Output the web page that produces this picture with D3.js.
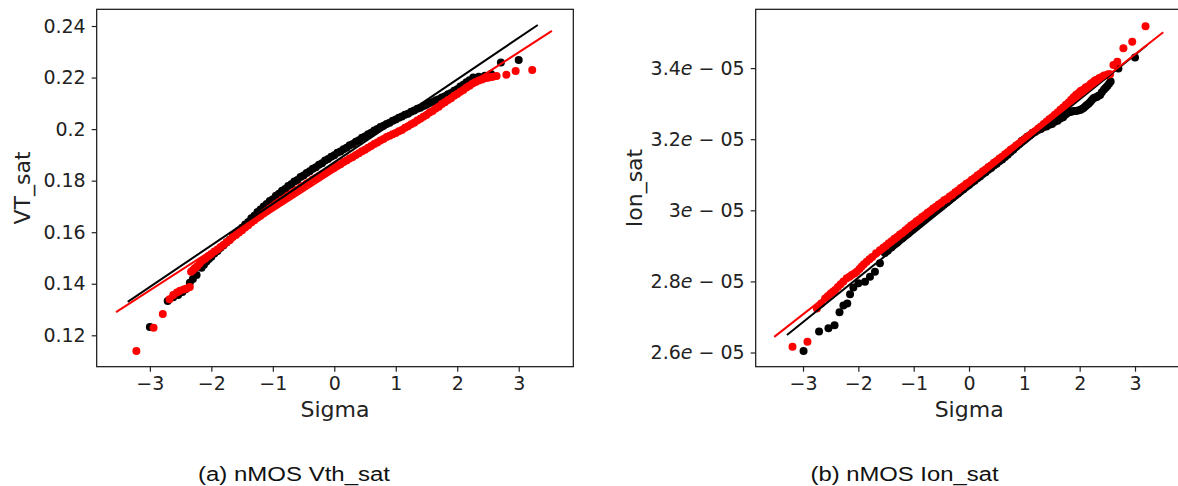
<!DOCTYPE html>
<html>
<head>
<meta charset="utf-8">
<script src="https://cdn.jsdelivr.net/npm/d3@7"></script>
<style>
  body { margin: 0; background: #fff; }
  svg { display: block; }
  .tick text { font-family: "DejaVu Sans", sans-serif; font-size: 19px; fill: #222; }
</style>
</head>
<body>
<div id="viz"></div>
<script>
'use strict';

const width = 1178;
const height = 486;

// ---- data: [sigma, value] ----
// panel (a): VT_sat
const vthBlack = [
  [-3.00, 0.1232], [-2.71, 0.1333], [-2.62, 0.1348], [-2.54, 0.1356], [-2.47, 0.1368],
  [-2.42, 0.1379], [-2.35, 0.1404], [-2.30, 0.1418], [-2.24, 0.1434], [-2.16, 0.1462],
  [-2.12, 0.1474], [-2.08, 0.1486], [-2.04, 0.1496], [-2.00, 0.1505], [-1.95, 0.1518],
  [-1.90, 0.1527], [-1.85, 0.1540], [-1.80, 0.1549], [-1.75, 0.1561], [-1.70, 0.1571],
  [-1.65, 0.1584], [-1.60, 0.1594], [-1.55, 0.1607], [-1.50, 0.1617], [-1.45, 0.1630],
  [-1.40, 0.1640], [-1.35, 0.1654], [-1.30, 0.1664], [-1.25, 0.1678], [-1.20, 0.1688],
  [-1.15, 0.1700], [-1.10, 0.1709], [-1.05, 0.1721], [-1.00, 0.1728], [-0.95, 0.1741],
  [-0.90, 0.1749], [-0.85, 0.1761], [-0.80, 0.1768], [-0.75, 0.1779], [-0.70, 0.1786],
  [-0.65, 0.1797], [-0.60, 0.1803], [-0.55, 0.1814], [-0.50, 0.1820], [-0.45, 0.1830],
  [-0.40, 0.1836], [-0.35, 0.1846], [-0.30, 0.1852], [-0.25, 0.1862], [-0.20, 0.1868],
  [-0.15, 0.1878], [-0.10, 0.1884], [-0.05, 0.1893], [0.00, 0.1899], [0.05, 0.1908],
  [0.10, 0.1913], [0.15, 0.1922], [0.20, 0.1928], [0.25, 0.1937], [0.30, 0.1942],
  [0.35, 0.1951], [0.40, 0.1957], [0.45, 0.1966], [0.50, 0.1971], [0.55, 0.1980],
  [0.60, 0.1986], [0.65, 0.1995], [0.70, 0.2000], [0.75, 0.2008], [0.80, 0.2013],
  [0.85, 0.2020], [0.90, 0.2025], [0.95, 0.2032], [1.00, 0.2037], [1.05, 0.2044],
  [1.10, 0.2049], [1.15, 0.2056], [1.20, 0.2060], [1.25, 0.2067], [1.30, 0.2072],
  [1.35, 0.2079], [1.40, 0.2083], [1.45, 0.2090], [1.50, 0.2094], [1.55, 0.2101],
  [1.60, 0.2105], [1.65, 0.2112], [1.70, 0.2116], [1.75, 0.2123], [1.80, 0.2127],
  [1.85, 0.2135], [1.90, 0.2140], [1.95, 0.2149], [2.00, 0.2155], [2.05, 0.2165],
  [2.10, 0.2172], [2.15, 0.2182], [2.20, 0.2190], [2.26, 0.2200], [2.35, 0.2203],
  [2.45, 0.2207], [2.55, 0.2214], [2.71, 0.2258], [3.00, 0.2268]
];
const vthRed = [
  [-3.22, 0.1139], [-2.94, 0.1229], [-2.79, 0.1283], [-2.68, 0.1340], [-2.62, 0.1356],
  [-2.56, 0.1366], [-2.51, 0.1373], [-2.45, 0.1378], [-2.40, 0.1382], [-2.35, 0.1387],
  [-2.33, 0.1447], [-2.30, 0.1452], [-2.27, 0.1460], [-2.23, 0.1468], [-2.19, 0.1479],
  [-2.15, 0.1489], [-2.10, 0.1497], [-2.05, 0.1507], [-2.00, 0.1515], [-1.95, 0.1525],
  [-1.90, 0.1533], [-1.85, 0.1543], [-1.80, 0.1551], [-1.75, 0.1561], [-1.70, 0.1570],
  [-1.65, 0.1581], [-1.60, 0.1589], [-1.55, 0.1599], [-1.50, 0.1608], [-1.45, 0.1618],
  [-1.40, 0.1627], [-1.35, 0.1638], [-1.30, 0.1646], [-1.25, 0.1656], [-1.20, 0.1664],
  [-1.15, 0.1674], [-1.10, 0.1682], [-1.05, 0.1692], [-1.00, 0.1700], [-0.95, 0.1709],
  [-0.90, 0.1717], [-0.85, 0.1726], [-0.80, 0.1733], [-0.75, 0.1742], [-0.70, 0.1749],
  [-0.65, 0.1758], [-0.60, 0.1765], [-0.55, 0.1773], [-0.50, 0.1780], [-0.45, 0.1789],
  [-0.40, 0.1795], [-0.35, 0.1804], [-0.30, 0.1810], [-0.25, 0.1818], [-0.20, 0.1825],
  [-0.15, 0.1832], [-0.10, 0.1838], [-0.05, 0.1845], [0.00, 0.1850], [0.05, 0.1858],
  [0.10, 0.1864], [0.15, 0.1872], [0.20, 0.1878], [0.25, 0.1886], [0.30, 0.1892],
  [0.35, 0.1900], [0.40, 0.1906], [0.45, 0.1914], [0.50, 0.1920], [0.55, 0.1928],
  [0.60, 0.1934], [0.65, 0.1942], [0.70, 0.1948], [0.75, 0.1956], [0.80, 0.1962],
  [0.85, 0.1969], [0.90, 0.1974], [0.95, 0.1980], [1.00, 0.1985], [1.05, 0.1992],
  [1.10, 0.1997], [1.15, 0.2005], [1.20, 0.2011], [1.25, 0.2019], [1.30, 0.2025],
  [1.35, 0.2033], [1.40, 0.2040], [1.45, 0.2048], [1.50, 0.2055], [1.55, 0.2064],
  [1.60, 0.2070], [1.65, 0.2080], [1.70, 0.2087], [1.75, 0.2097], [1.80, 0.2104],
  [1.85, 0.2113], [1.90, 0.2120], [1.95, 0.2129], [2.00, 0.2136], [2.05, 0.2145],
  [2.10, 0.2152], [2.15, 0.2161], [2.20, 0.2168], [2.25, 0.2177], [2.30, 0.2183],
  [2.35, 0.2189], [2.40, 0.2192], [2.45, 0.2197], [2.50, 0.2199], [2.54, 0.2202],
  [2.58, 0.2203], [2.64, 0.2206], [2.80, 0.2211], [2.95, 0.2225], [3.22, 0.2229]
];
const vthFitBlack = [[-3.36, 0.1330], [3.31, 0.2404]];
const vthFitRed = [[-3.55, 0.1290], [3.54, 0.2381]];

// panel (b): Ion_sat, values in units of 1e-05
const ionBlack = [
  [-2.99, 2.604], [-2.71, 2.659], [-2.54, 2.668], [-2.43, 2.677], [-2.34, 2.713],
  [-2.27, 2.732], [-2.20, 2.738], [-2.15, 2.764], [-2.09, 2.783], [-2.00, 2.795],
  [-1.88, 2.799], [-1.79, 2.813], [-1.70, 2.827], [-1.61, 2.851], [-1.52, 2.880],
  [-1.47, 2.886], [-1.40, 2.896], [-1.35, 2.904], [-1.30, 2.909], [-1.25, 2.917],
  [-1.20, 2.922], [-1.15, 2.930], [-1.10, 2.935], [-1.05, 2.943], [-1.00, 2.948],
  [-0.95, 2.956], [-0.90, 2.961], [-0.85, 2.969], [-0.80, 2.974], [-0.75, 2.982],
  [-0.70, 2.987], [-0.65, 2.994], [-0.60, 2.999], [-0.55, 3.006], [-0.50, 3.011],
  [-0.45, 3.018], [-0.40, 3.023], [-0.35, 3.030], [-0.30, 3.035], [-0.25, 3.042],
  [-0.20, 3.047], [-0.15, 3.054], [-0.10, 3.059], [-0.05, 3.066], [0.00, 3.071],
  [0.05, 3.078], [0.10, 3.083], [0.15, 3.090], [0.20, 3.095], [0.25, 3.102],
  [0.30, 3.107], [0.35, 3.114], [0.40, 3.119], [0.45, 3.126], [0.50, 3.131],
  [0.55, 3.138], [0.60, 3.143], [0.65, 3.150], [0.70, 3.156], [0.75, 3.164],
  [0.80, 3.170], [0.85, 3.179], [0.90, 3.186], [0.95, 3.195], [1.00, 3.200],
  [1.05, 3.207], [1.10, 3.211], [1.15, 3.218], [1.20, 3.221], [1.25, 3.226],
  [1.30, 3.229], [1.35, 3.234], [1.40, 3.236], [1.45, 3.241], [1.50, 3.243],
  [1.55, 3.249], [1.60, 3.252], [1.65, 3.258], [1.70, 3.262], [1.74, 3.269],
  [1.77, 3.273], [1.81, 3.276], [1.85, 3.277], [1.89, 3.279], [1.93, 3.279],
  [1.97, 3.281], [2.01, 3.282], [2.04, 3.285], [2.07, 3.288], [2.10, 3.292],
  [2.13, 3.296], [2.16, 3.300], [2.19, 3.305], [2.22, 3.310], [2.25, 3.315],
  [2.28, 3.317], [2.31, 3.319], [2.34, 3.322], [2.37, 3.324], [2.40, 3.332],
  [2.44, 3.340], [2.47, 3.345], [2.50, 3.350], [2.53, 3.356], [2.56, 3.362],
  [2.70, 3.399], [3.00, 3.430]
];
const ionRed = [
  [-3.19, 2.616], [-2.92, 2.630], [-2.75, 2.724], [-2.67, 2.738], [-2.60, 2.752],
  [-2.55, 2.759], [-2.50, 2.766], [-2.46, 2.771], [-2.42, 2.776], [-2.37, 2.784],
  [-2.32, 2.792], [-2.27, 2.800], [-2.21, 2.809], [-2.16, 2.813], [-2.12, 2.818],
  [-2.07, 2.822], [-2.03, 2.827], [-1.98, 2.835], [-1.94, 2.842], [-1.90, 2.848],
  [-1.85, 2.855], [-1.80, 2.862], [-1.75, 2.869], [-1.68, 2.879], [-1.61, 2.888],
  [-1.55, 2.895], [-1.50, 2.900], [-1.45, 2.907], [-1.40, 2.913], [-1.35, 2.920],
  [-1.30, 2.925], [-1.25, 2.932], [-1.20, 2.937], [-1.15, 2.944], [-1.10, 2.950],
  [-1.05, 2.957], [-1.00, 2.962], [-0.95, 2.969], [-0.90, 2.974], [-0.85, 2.981],
  [-0.80, 2.986], [-0.75, 2.993], [-0.70, 2.998], [-0.65, 3.005], [-0.60, 3.010],
  [-0.55, 3.016], [-0.50, 3.021], [-0.45, 3.028], [-0.40, 3.032], [-0.35, 3.039],
  [-0.30, 3.044], [-0.25, 3.051], [-0.20, 3.056], [-0.15, 3.063], [-0.10, 3.068],
  [-0.05, 3.075], [0.00, 3.079], [0.05, 3.086], [0.10, 3.091], [0.15, 3.098],
  [0.20, 3.103], [0.25, 3.110], [0.30, 3.115], [0.35, 3.122], [0.40, 3.127],
  [0.45, 3.134], [0.50, 3.139], [0.55, 3.146], [0.60, 3.151], [0.65, 3.158],
  [0.70, 3.163], [0.75, 3.170], [0.80, 3.175], [0.85, 3.182], [0.90, 3.187],
  [0.95, 3.194], [1.00, 3.199], [1.05, 3.206], [1.10, 3.211], [1.15, 3.218],
  [1.20, 3.223], [1.25, 3.230], [1.30, 3.236], [1.35, 3.243], [1.40, 3.249],
  [1.45, 3.256], [1.50, 3.262], [1.55, 3.269], [1.60, 3.275], [1.65, 3.283],
  [1.70, 3.289], [1.75, 3.297], [1.80, 3.303], [1.845, 3.311], [1.89, 3.318],
  [1.935, 3.325], [1.98, 3.330], [2.02, 3.336], [2.07, 3.340], [2.11, 3.346],
  [2.16, 3.350], [2.20, 3.356], [2.24, 3.360], [2.275, 3.365], [2.31, 3.367],
  [2.355, 3.372], [2.40, 3.375], [2.44, 3.379], [2.48, 3.380], [2.515, 3.383],
  [2.55, 3.383], [2.61, 3.409], [2.68, 3.418], [2.79, 3.456], [2.95, 3.474],
  [3.19, 3.518]
];
const ionFitBlack = [[-3.29, 2.649], [3.22, 3.465]];
const ionFitRed = [[-3.52, 2.644], [3.51, 3.501]];

// ticks
const sigmaTicks = [-3, -2, -1, 0, 1, 2, 3];
const vthTicks = [0.12, 0.14, 0.16, 0.18, 0.2, 0.22, 0.24];
const vthTickLabels = ["0.12", "0.14", "0.16", "0.18", "0.2", "0.22", "0.24"];
const ionTicks = [2.6, 2.8, 3.0, 3.2, 3.4];
const ionTickMantissa = ["2.6", "2.8", "3", "3.2", "3.4"];
const ionTickExponent = "05";

const svg = d3.select("#viz")
    .append("svg")
    .attr("width", width)
    .attr("height", height);

function drawPanel(p) {
    const x = d3.scaleLinear().domain(p.xDomain).range([p.left, p.right]);
    const y = d3.scaleLinear().domain(p.yDomain).range([p.bottom, p.top]);
    const g = svg.append("g");

    // scatter: black first, red on top
    g.append("g").selectAll("circle")
        .data(p.black)
        .enter()
        .append("circle")
        .attr("cx", d => x(d[0]))
        .attr("cy", d => y(d[1]))
        .attr("r", 4)
        .attr("fill", "#000");
    g.append("g").selectAll("circle")
        .data(p.red)
        .enter()
        .append("circle")
        .attr("cx", d => x(d[0]))
        .attr("cy", d => y(d[1]))
        .attr("r", 4)
        .attr("fill", "#ff0000");

    const line = d3.line().x(d => x(d[0])).y(d => y(d[1]));
    g.append("path").attr("d", line(p.fitBlack))
        .attr("fill", "none").attr("stroke", "#000").attr("stroke-width", 2);
    g.append("path").attr("d", line(p.fitRed))
        .attr("fill", "none").attr("stroke", "#ff0000").attr("stroke-width", 2);

    // frame
    g.append("rect")
        .attr("x", p.left).attr("y", p.top)
        .attr("width", p.right - p.left).attr("height", p.bottom - p.top)
        .attr("fill", "none").attr("stroke", "#111").attr("stroke-width", 1.2);

    const xAxis = g.append("g")
        .attr("transform", `translate(0,${p.bottom})`)
        .call(d3.axisBottom(x).tickValues(sigmaTicks).tickSize(5).tickPadding(5)
            .tickFormat(d => d < 0 ? "\u2212" + Math.abs(d) : String(d)));
    const yAxis = g.append("g")
        .attr("transform", `translate(${p.left},0)`)
        .call(d3.axisLeft(y).tickValues(p.yTicks).tickSize(5).tickPadding(6)
            .tickFormat((d, i) => p.yLabels[i]));
    [xAxis, yAxis].forEach(a => {
        a.select(".domain").remove();
        a.selectAll(".tick line").attr("stroke", "#222").attr("stroke-width", 1.2);
    });
    if (p.mathLabels) {
        yAxis.selectAll(".tick text").each(function(d, i) {
            const t = d3.select(this).text(null);
            t.append("tspan").text(p.yLabels[i]);
            t.append("tspan").attr("font-style", "italic").text("e");
            t.append("tspan").text(" \u2212 " + ionTickExponent);
        });
    }

    // axis titles
    g.append("text")
        .attr("x", (p.left + p.right) / 2)
        .attr("y", 416.5)
        .attr("text-anchor", "middle")
        .attr("font-family", "DejaVu Sans, sans-serif")
        .attr("font-size", 22)
        .attr("fill", "#222")
        .text("Sigma");
    g.append("text")
        .attr("transform", `translate(${p.yTitleX},${(p.top + p.bottom) / 2}) rotate(-90)`)
        .attr("text-anchor", "middle")
        .attr("font-family", "DejaVu Sans, sans-serif")
        .attr("font-size", 22)
        .attr("fill", "#222")
        .text(p.yTitle);

    // caption
    g.append("text")
        .attr("x", p.captionX)
        .attr("y", 480.5)
        .attr("text-anchor", "middle")
        .attr("font-family", "Liberation Sans, Arial, sans-serif")
        .attr("font-size", 20)
        .attr("fill", "#111")
        .attr("textLength", p.captionLen)
        .attr("lengthAdjust", "spacingAndGlyphs")
        .text(p.caption);
}

drawPanel({
    left: 96.7, right: 573.3, top: 9.3, bottom: 366.7,
    xDomain: [-3.865, 3.888], yDomain: [0.10782, 0.24648],
    black: vthBlack, red: vthRed, fitBlack: vthFitBlack, fitRed: vthFitRed,
    yTicks: vthTicks, yLabels: vthTickLabels, mathLabels: false,
    yTitle: "VT_sat", yTitleX: 30,
    caption: "(a) nMOS Vth_sat", captionX: 294, captionLen: 192
});

drawPanel({
    left: 755.7, right: 1182.6, top: 9.3, bottom: 366.7,
    xDomain: [-3.855, 3.86], yDomain: [2.5601, 3.5654],
    black: ionBlack, red: ionRed, fitBlack: ionFitBlack, fitRed: ionFitRed,
    yTicks: ionTicks, yLabels: ionTickMantissa, mathLabels: true,
    yTitle: "Ion_sat", yTitleX: 642,
    caption: "(b) nMOS Ion_sat", captionX: 904.5, captionLen: 188
});
</script>
</body>
</html>
